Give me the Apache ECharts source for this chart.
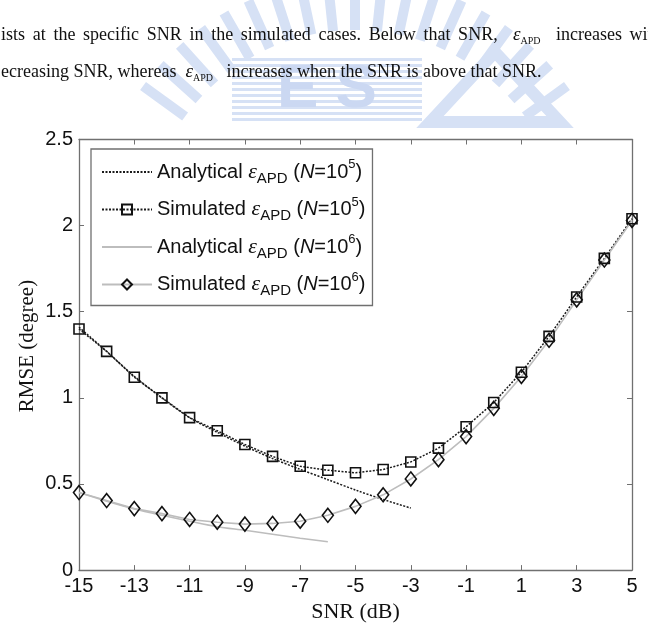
<!DOCTYPE html>
<html>
<head>
<meta charset="utf-8">
<script src="https://cdn.jsdelivr.net/npm/echarts@6/dist/echarts.min.js"></script>
<style>
  html, body { margin: 0; padding: 0; background: #fff; }
  #wrap { position: relative; width: 648px; height: 628px; overflow: hidden; }
  #chart { position: absolute; left: 0; top: 0; width: 648px; height: 628px; }
  .para {
    position: absolute; left: 0; white-space: nowrap;
    font-family: "Liberation Serif", serif; font-size: 18px; line-height: 20px; color: #111;
  }
  .para i { font-size: 19px; }
  .para sub { font-size: 10px; vertical-align: -4px; }
</style>
</head>
<body>
<div id="wrap">
  <div id="chart"></div>
  <!-- 正文片段（截图里图上方的两行） -->
  <div class="para" id="line1" style="top:24px; left:1px; word-spacing:3.2px;">ists at the specific SNR in the simulated cases. Below that SNR, &nbsp;<i>ε</i><sub>APD</sub>&nbsp; increases with</div>
  <div class="para" id="line2" style="top:61px; left:1px;">ecreasing SNR, whereas &nbsp;<i>ε</i><sub>APD</sub>&nbsp;&nbsp; increases when the SNR is above that SNR.</div>
</div>

<script>
// x 轴刻度和信噪比取值
const xTicks = [-15, -13, -11, -9, -7, -5, -3, -1, 1, 3, 5];
const yTicks = [0, 0.5, 1, 1.5, 2, 2.5];
const snrSim = [-15, -14, -13, -12, -11, -10, -9, -8, -7, -6, -5, -4, -3, -2, -1, 0, 1, 2, 3, 4, 5];
const snrAna5 = [-15, -14, -13, -12, -11, -10, -9, -8, -7, -6, -5, -4, -3];
const snrAna6 = [-15, -14, -13, -12, -11, -10, -9, -8, -7, -6];

// RMSE (degree)
const ana5 = [1.41, 1.27, 1.125, 1.0, 0.885, 0.80, 0.72, 0.648, 0.585, 0.525, 0.465, 0.41, 0.36];
const sim5 = [1.40, 1.27, 1.12, 1.00, 0.885, 0.809, 0.729, 0.66, 0.603, 0.58, 0.565, 0.584, 0.628, 0.708, 0.832, 0.973, 1.149, 1.357, 1.586, 1.81, 2.04];
const ana6 = [0.45, 0.40, 0.355, 0.318, 0.284, 0.252, 0.231, 0.208, 0.185, 0.165];
const sim6 = [0.45, 0.404, 0.357, 0.328, 0.294, 0.278, 0.267, 0.271, 0.284, 0.318, 0.37, 0.437, 0.529, 0.641, 0.775, 0.939, 1.124, 1.334, 1.569, 1.80, 2.03];

const legendNames = {
  ana5: 'Analytical {e|ε}{sub|APD} ({n|N}=10{sup|5})',
  sim5: 'Simulated {e|ε}{sub|APD} ({n|N}=10{sup|5})',
  ana6: 'Analytical {e|ε}{sub|APD} ({n|N}=10{sup|6})',
  sim6: 'Simulated {e|ε}{sub|APD} ({n|N}=10{sup|6})'
};

function pairs(xs, ys) {
  return xs.map((x, i) => [x, ys[i]]);
}

const chart = echarts.init(document.getElementById('chart'), null, { renderer: 'canvas' });

const axisColor = '#707070';
const sans = '"Liberation Sans", Arial, sans-serif';
const serif = '"Liberation Serif", "Times New Roman", serif';

// 背景水印（校徽），只画在图的上方
const wm = [];
const wmColor = '#d6e1f5';
const cx = 355, cy = 240, r1 = 210, r2 = 262;
for (let a = 216; a <= 324; a += 6) {
  const t = a * Math.PI / 180;
  wm.push({
    type: 'line', silent: true, z: -10,
    shape: { x1: cx + r1 * Math.cos(t), y1: cy + r1 * Math.sin(t), x2: cx + r2 * Math.cos(t), y2: cy + r2 * Math.sin(t) },
    style: { stroke: wmColor, lineWidth: 10 }
  });
}
for (let y = 58; y < 120; y += 6) {
  wm.push({
    type: 'rect', silent: true, z: -10,
    shape: { x: 232, y: y, width: 190, height: 3 },
    style: { fill: wmColor }
  });
}
wm.push({
  type: 'text', silent: true, z: -9, x: 327, y: 90,
  style: { text: 'E S', font: 'bold 62px ' + sans, fill: '#cbd8f2', align: 'center', verticalAlign: 'middle' }
});
wm.push({
  type: 'polygon', silent: true, z: -10,
  shape: { points: [[430, 122], [495, 52], [560, 122]] },
  style: { fill: 'none', stroke: wmColor, lineWidth: 12 }
});

function boxAxis(extra) {
  return Object.assign({
    type: 'value',
    axisLine: { show: true, onZero: false, lineStyle: { color: axisColor, width: 1.3 } },
    axisTick: { show: true, inside: true, length: 5, lineStyle: { color: axisColor } },
    axisLabel: { show: false },
    splitLine: { show: false }
  }, extra);
}

const tickLabel = { show: true, margin: 6, fontFamily: sans, fontSize: 20, color: '#111' };

const option = {
  backgroundColor: 'transparent',
  animation: false,
  grid: { left: 79, right: 16, top: 139.5, bottom: 54.5, containLabel: false },
  legend: {
    orient: 'vertical',
    left: 91,
    top: 149,
    align: 'left',
    padding: [9, 7, 7, 10],
    itemGap: 9.5,
    itemWidth: 50,
    itemHeight: 12.5,
    selectedMode: false,
    backgroundColor: '#fff',
    borderColor: axisColor,
    borderWidth: 1.3,
    data: [
      { name: 'ana5', itemStyle: { opacity: 0 } },
      { name: 'sim5' },
      { name: 'ana6', itemStyle: { opacity: 0 } },
      { name: 'sim6' }
    ],
    formatter: name => legendNames[name],
    textStyle: {
      fontFamily: sans, fontSize: 20, color: '#111', lineHeight: 28,
      rich: {
        e: { fontFamily: serif, fontStyle: 'italic', fontSize: 22, lineHeight: 28, color: '#111' },
        sub: { fontFamily: sans, fontSize: 15, lineHeight: 8, verticalAlign: 'bottom', color: '#111' },
        n: { fontFamily: sans, fontStyle: 'italic', fontSize: 20, lineHeight: 28, color: '#111' },
        sup: { fontFamily: sans, fontSize: 13, lineHeight: 12, verticalAlign: 'top', color: '#111' }
      }
    }
  },
  xAxis: [
    boxAxis({
      min: xTicks[0], max: xTicks[xTicks.length - 1], interval: 2,
      name: 'SNR (dB)', nameLocation: 'middle', nameGap: 26,
      nameTextStyle: { fontFamily: serif, fontSize: 22, color: '#111' },
      axisLabel: tickLabel
    }),
    boxAxis({ position: 'top', min: xTicks[0], max: xTicks[xTicks.length - 1], interval: 2 })
  ],
  yAxis: [
    boxAxis({
      min: yTicks[0], max: yTicks[yTicks.length - 1], interval: 0.5,
      axisLabel: tickLabel
    }),
    boxAxis({ position: 'right', min: yTicks[0], max: yTicks[yTicks.length - 1], interval: 0.5 })
  ],
  graphic: wm.concat([
    {
      type: 'text', x: 27, y: 346, rotation: Math.PI / 2,
      style: { text: 'RMSE (degree)', font: '21px ' + serif, fill: '#111', align: 'center', verticalAlign: 'middle' }
    }
  ]),
  series: [
    {
      name: 'ana5', type: 'line', smooth: 0.3, symbol: 'none',
      data: pairs(snrAna5, ana5),
      lineStyle: { color: '#1a1a1a', width: 1.5, type: [2, 1.5] },
      itemStyle: { color: '#1a1a1a' }
    },
    {
      name: 'sim5', type: 'line', symbol: 'rect', symbolSize: 10,
      data: pairs(snrSim, sim5),
      lineStyle: { color: '#1a1a1a', width: 1.5, type: [2, 1.5] },
      itemStyle: { color: 'rgba(255,255,255,0)', borderColor: '#111', borderWidth: 1.6 }
    },
    {
      name: 'ana6', type: 'line', smooth: 0.3, symbol: 'none',
      data: pairs(snrAna6, ana6),
      lineStyle: { color: '#bdbdbd', width: 1.6 },
      itemStyle: { color: '#bdbdbd' }
    },
    {
      name: 'sim6', type: 'line', symbol: 'diamond', symbolSize: [11, 14],
      data: pairs(snrSim, sim6),
      lineStyle: { color: '#bdbdbd', width: 1.6 },
      itemStyle: { color: 'rgba(255,255,255,0)', borderColor: '#111', borderWidth: 1.6 }
    }
  ]
};

chart.setOption(option);
</script>
</body>
</html>
